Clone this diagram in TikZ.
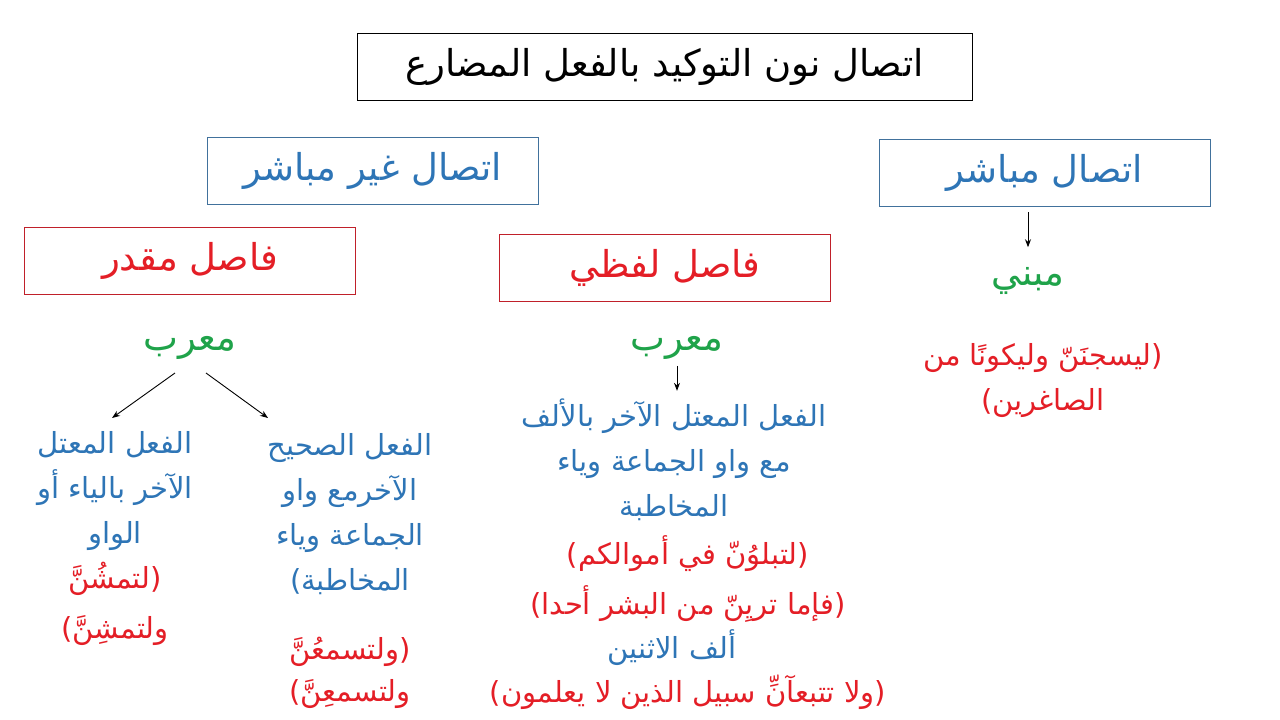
\documentclass[tikz,border=0pt]{standalone}
\usepackage{fontspec}
\usetikzlibrary{arrows.meta}
\TeXXeTstate=1
\newfontfamily\arabicfont[Script=Arabic]{DejaVu Sans}
\definecolor{txtblue}{HTML}{2E75B6}
\definecolor{boxblue}{HTML}{41719C}
\definecolor{txtred}{HTML}{E41E26}
\definecolor{boxred}{HTML}{C0202A}
\definecolor{txtgreen}{HTML}{1FA34A}
\newcommand{\ar}[1]{\beginR #1\endR}
\tikzset{
	box/.style={draw, line width=0.9pt, minimum width=331pt, minimum height=67pt, inner sep=0pt},
	lbl/.style={font=\arabicfont\fontsize{29}{45}\selectfont, align=center, inner sep=0pt},
	big/.style={font=\arabicfont\fontsize{37}{44}\selectfont},
	arr/.style={-{Stealth[length=8pt,width=6pt]}, line width=0.9pt}
}
\begin{document}
\begin{tikzpicture}[x=1pt,y=-1pt]
	\useasboundingbox (0,0) rectangle (1280,720);
	\fill[white] (0,0) rectangle (1280,720);
	\node (title) at (664.5, 66.5)	[box, minimum width=615pt, text=black, lbl, big]	{\ar{اتصال نون التوكيد بالفعل المضارع}};
	\node (indirect) at (372.5, 170.5)	[box, draw=boxblue, lbl, big, text=txtblue]	{\ar{اتصال غير مباشر}};
	\node (direct) at (1044.5, 172.5)	[box, draw=boxblue, lbl, big, text=txtblue]	{\ar{اتصال مباشر}};
	\node (estimated) at (190, 261)	[box, draw=boxred, lbl, big, text=txtred]	{\ar{فاصل مقدر}};
	\node (verbal) at (665, 268)	[box, draw=boxred, lbl, big, text=txtred]	{\ar{فاصل لفظي}};
	\node (mabni) at (1028, 281)	[lbl, big, text=txtgreen]	{\ar{مبني}};
	\node (murabA) at (190, 348)	[lbl, big, text=txtgreen]	{\ar{معرب}};
	\node (murabB) at (677, 348)	[lbl, big, text=txtgreen]	{\ar{معرب}};
	\node (exdirect) at (1043, 381)	[lbl, text=txtred]	{\ar{(ليسجنَنّ وليكونًا من}\\ \ar{الصاغرين)}};
	\node (weakA) at (115, 491)	[lbl, text=txtblue]	{\ar{الفعل المعتل}\\ \ar{الآخر بالياء أو}\\ \ar{الواو}};
	\node (exweakA) at (115, 604)	[lbl, text=txtred, font=\arabicfont\fontsize{29}{50}\selectfont]	{\ar{(لتمشُنَّ}\\ \ar{ولتمشِنَّ)}};
	\node (soundB) at (350, 514)	[lbl, text=txtblue]	{\ar{الفعل الصحيح}\\ \ar{الآخرمع واو}\\ \ar{الجماعة وياء}\\ \ar{المخاطبة)}};
	\node (exsoundB) at (350, 673)	[lbl, text=txtred, font=\arabicfont\fontsize{29}{42}\selectfont]	{\ar{(ولتسمعُنَّ}\\ \ar{ولتسمعِنَّ)}};
	\node (alif) at (674, 460)	[lbl, text=txtblue]	{\ar{الفعل المعتل الآخر بالألف}\\ \ar{مع واو الجماعة وياء}\\ \ar{المخاطبة}};
	\node (exalif) at (688, 579)	[lbl, text=txtred, font=\arabicfont\fontsize{29}{50}\selectfont]	{\ar{(لتبلوُنّ في أموالكم)}\\ \ar{(فإما تريِنّ من البشر أحدا)}};
	\node (dual) at (672, 648)	[lbl, text=txtblue]	{\ar{ألف الاثنين}};
	\node (exdual) at (688, 692)	[lbl, text=txtred]	{\ar{(ولا تتبعآنِّ سبيل الذين لا يعلمون)}};
	\coordinate (fromA) at (175, 373);
	\coordinate (fromB) at (206, 373);
	\coordinate (tipA) at (112, 418);
	\coordinate (tipB) at (268, 418);
	\draw[arr] (direct.south -| mabni.north) -- (mabni.north) [shorten <=6pt, shorten >=20pt];
	\draw[arr] (murabB.south) -- (murabB.south |- alif.north) [shorten <=6pt, shorten >=8pt];
	\draw[arr] (fromA) -- (tipA);
	\draw[arr] (fromB) -- (tipB);
\end{tikzpicture}
\end{document}
